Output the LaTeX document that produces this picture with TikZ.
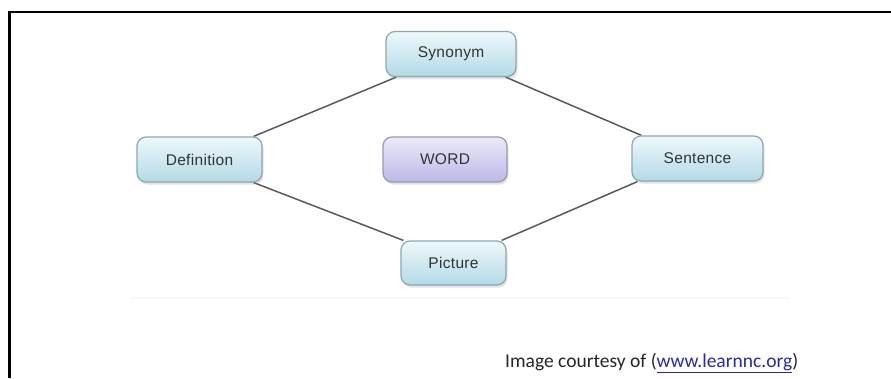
\documentclass[tikz,border=0pt]{standalone}
\usepackage{fontspec}
\setmainfont[LetterSpace=2]{Liberation Sans}
\newfontfamily\capfont{Carlito}
\usetikzlibrary{shadows,backgrounds}
\definecolor{boxtop}{HTML}{EEF8FB}
\definecolor{boxbot}{HTML}{B3DAE6}
\definecolor{boxedge}{HTML}{8DA7B2}
\definecolor{wtop}{HTML}{ECEAFA}
\definecolor{wbot}{HTML}{BCB9E6}
\definecolor{wedge}{HTML}{9A98B8}
\definecolor{linkblue}{HTML}{2A2A9E}
\definecolor{linkgray}{HTML}{555B5E}
\begin{document}
\begin{tikzpicture}[x=1pt,y=-1pt,
  basebox/.style={draw, line width=1.2pt, rounded corners=9pt, minimum height=45pt,
    inner sep=0pt, font=\fontsize{15.5}{18}\selectfont, text=black!80,
    drop shadow={shadow xshift=1.5pt, shadow yshift=-2.5pt, opacity=0.22}},
  concept/.style={basebox, draw=boxedge, top color=boxtop, bottom color=boxbot},
  wordbox/.style={basebox, draw=wedge, top color=wtop, bottom color=wbot},
  link/.style={draw=linkgray, line width=1.5pt},
  frameline/.style={line width=2.5pt, black}]
\useasboundingbox (0,0) rectangle (891,378);

% nodes
\node[concept, minimum width=130pt] (syn) at (451,54) {Synonym};
\node[concept, minimum width=125pt] (def) at (199.5,159.5) {Definition};
\node[wordbox, minimum width=124pt] (word) at (445,159.5) {WORD};
\node[concept, minimum width=131pt] (sen) at (697.5,158.5) {Sentence};
\node[concept, minimum width=105pt, minimum height=44pt] (pic) at (453.5,263) {Picture};

\begin{pgfonlayer}{background}
\fill[white] (0,0) rectangle (891,378);
% faint edge of the pasted picture
\draw[black!3, line width=2pt] (130,298) -- (790,298);
% connectors
\draw[link] ([xshift=-9]def.north east) -- ([xshift=11]syn.south west);
\draw[link] ([xshift=-9]def.south east) -- ([xshift=3]pic.north west);
\draw[link] ([xshift=-11]syn.south east) -- ([xshift=10]sen.north west);
\draw[link] ([xshift=-5]pic.north east) -- ([xshift=6]sen.south west);
\end{pgfonlayer}

% frame
\draw[frameline] (9.5,378) -- (9.5,12) -- (891,12);

% caption
\node[anchor=base west, inner sep=0pt, text=black!85,
  font=\capfont\fontsize{19.5}{23}\selectfont] (cap) at (505,367)
  {Image courtesy of (\textcolor{linkblue}{\underline{www.learnnc.org}})};
\end{tikzpicture}
\end{document}
